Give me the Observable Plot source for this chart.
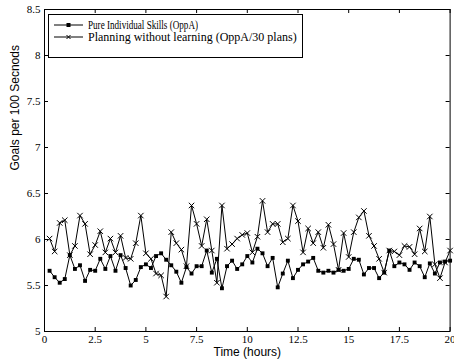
<!DOCTYPE html>
<html><head><meta charset="utf-8">
<script src="https://cdn.jsdelivr.net/npm/d3@7"></script>
<script src="https://cdn.jsdelivr.net/npm/@observablehq/plot@0.6"></script>
<style>
html,body{margin:0;padding:0;background:#fff;}
#wrap{position:relative;width:454px;height:363px;overflow:hidden;}
#legend{position:absolute;left:48px;top:14px;width:255px;height:44px;border:1px solid #000;background:#fff;font-family:"Liberation Serif","Times New Roman",serif;font-size:12px;line-height:12px;color:#000;box-sizing:border-box;}
#legend .row{position:absolute;left:5px;height:12px;display:flex;align-items:center;white-space:nowrap;}
#legend svg{margin-right:4px;flex:none;}
#legend span{display:inline-block;transform-origin:0 50%;}
</style></head><body><div id="wrap"><div id="legend"></div></div>
<script>
const hours = [0.25,0.5,0.75,1,1.25,1.5,1.75,2,2.25,2.5,2.75,3,3.25,3.5,3.75,4,4.25,4.5,4.75,5,
  5.25,5.5,5.75,6,6.25,6.5,6.75,7,7.25,7.5,7.75,8,8.25,8.5,8.75,9,9.25,9.5,9.75,10,
  10.25,10.5,10.75,11,11.25,11.5,11.75,12,12.25,12.5,12.75,13,13.25,13.5,13.75,14,14.25,14.5,14.75,15,
  15.25,15.5,15.75,16,16.25,16.5,16.75,17,17.25,17.5,17.75,18,18.25,18.5,18.75,19,19.25,19.5,19.75,20];
const pureSkills = [5.66,5.59,5.53,5.57,5.83,5.68,5.72,5.55,5.67,5.66,5.79,5.68,5.82,5.66,5.83,5.69,5.50,5.56,5.70,5.73,
  5.69,5.82,5.85,5.78,5.72,5.65,5.53,5.70,5.63,5.71,5.71,5.88,5.64,5.79,5.47,5.71,5.77,5.68,5.73,5.82,
  5.75,5.90,5.85,5.71,5.80,5.48,5.63,5.77,5.58,5.67,5.73,5.76,5.80,5.66,5.64,5.66,5.64,5.67,5.66,5.68,
  5.79,5.78,5.62,5.69,5.69,5.58,5.64,5.88,5.71,5.75,5.73,5.67,5.75,5.71,5.59,5.74,5.63,5.75,5.76,5.77];
const planning = [6.01,5.87,6.18,6.21,5.83,5.93,6.26,6.17,5.84,5.94,6.09,5.86,6.01,5.86,6.04,5.80,5.79,5.96,6.26,5.85,
  5.79,5.63,5.61,5.38,6.08,5.96,5.89,5.71,6.37,6.17,5.93,6.22,5.88,5.53,6.37,5.90,5.95,6.01,6.05,6.07,
  5.86,6.03,6.42,6.08,6.17,6.17,5.97,6.01,6.37,6.20,5.86,6.12,5.96,6.08,5.91,6.16,5.95,5.67,6.07,5.81,
  6.08,6.24,6.31,6.04,5.93,5.79,5.64,5.88,5.87,5.83,5.93,5.92,5.84,6.12,5.87,6.25,5.73,5.58,5.75,5.88];
const seriesNames = ["Pure Individual Skills (OppA)", "Planning without learning (OppA/30 plans)"];
const xTicks = [0,2.5,5,7.5,10,12.5,15,17.5,20];
const xTickLabels = ["0","2.5","5","7.5","10","12.5","15","17.5","20"];
const yTicks = [5,5.5,6,6.5,7,7.5,8,8.5];
const yTickLabels = ["5","5.5","6","6.5","7","7.5","8","8.5"];
const xLabel = "Time (hours)";
const yLabel = "Goals per 100 Secnods";

const W = 454, H = 363, mL = 44, mR = 4.4, mT = 9, mB = 32;
const innerW = W - mL - mR, innerH = H - mT - mB, tk = 4;
const dataA = hours.map((h, i) => ({h, v: pureSkills[i]}));
const dataB = hours.map((h, i) => ({h, v: planning[i]}));
const sans = '"Liberation Sans", Arial, sans-serif';

const chart = Plot.plot({
  width: W, height: H,
  marginLeft: mL, marginRight: mR, marginTop: mT, marginBottom: mB,
  style: {fontFamily: '"Liberation Serif", "Times New Roman", serif', fontSize: "11px", background: "#fff", color: "#000", overflow: "hidden"},
  x: {domain: [0, 20]},
  y: {domain: [5, 8.5]},
  marks: [
    Plot.ruleX(xTicks, {x: d => d, insetTop: innerH - tk, stroke: "#000"}),
    Plot.ruleX(xTicks, {x: d => d, insetBottom: innerH - tk, stroke: "#000"}),
    Plot.ruleY(yTicks, {y: d => d, insetRight: innerW - tk, stroke: "#000"}),
    Plot.ruleY(yTicks, {y: d => d, insetLeft: innerW - tk, stroke: "#000"}),
    Plot.axisX(xTicks, {anchor: "bottom", tickSize: 0, tickPadding: 4, label: null, tickFormat: d => xTickLabels[xTicks.indexOf(d)]}),
    Plot.axisY(yTicks, {anchor: "left", tickSize: 0, tickPadding: 4, label: null, tickFormat: d => yTickLabels[yTicks.indexOf(d)]}),
    Plot.line(dataA, {x: "h", y: "v", stroke: "#000", strokeWidth: 1}),
    Plot.dot(dataA, {x: "h", y: "v", symbol: "square", r: 2.2, fill: "#000", stroke: null}),
    Plot.line(dataB, {x: "h", y: "v", stroke: "#000", strokeWidth: 1}),
    Plot.dot(dataB, {x: "h", y: "v", symbol: "times", r: 2.6, stroke: "#000", strokeWidth: 1, fill: "none"}),
    Plot.frame({stroke: "#000", strokeWidth: 1}),
    Plot.text([xLabel], {frameAnchor: "bottom", dy: 24.5, fontFamily: sans, fontSize: 12, fill: "#000"}),
    Plot.text([yLabel], {frameAnchor: "left", rotate: -90, dx: -29, fontFamily: sans, fontSize: 12, fill: "#000"})
  ]
});
const wrap = document.getElementById("wrap");
wrap.insertBefore(chart, wrap.firstChild);

// legend (inside the axes, as in the reference)
const legend = document.getElementById("legend");
const sym = ["square", "times"];
const legendTextWidth = [110, 212];
seriesNames.forEach((name, i) => {
  const row = document.createElement("div");
  row.className = "row";
  row.style.top = (4 + i * 12) + "px";
  const marker = sym[i] === "square"
    ? '<rect x="12.5" y="4" width="4" height="4" fill="#000"/>'
    : '<path d="M12.5,4L16.5,8M16.5,4L12.5,8" stroke="#000" stroke-width="1"/>';
  row.innerHTML = '<svg width="30" height="12"><line x1="0" x2="29" y1="6" y2="6" stroke="#000" stroke-width="1"/>' + marker + '</svg><span>' + name + '</span>';
  legend.appendChild(row);
  const span = row.querySelector("span");
  const w = span.getBoundingClientRect().width;
  if (w > legendTextWidth[i] + 2) span.style.transform = "scaleX(" + (legendTextWidth[i] / w) + ")";
});
</script>
</body></html>
